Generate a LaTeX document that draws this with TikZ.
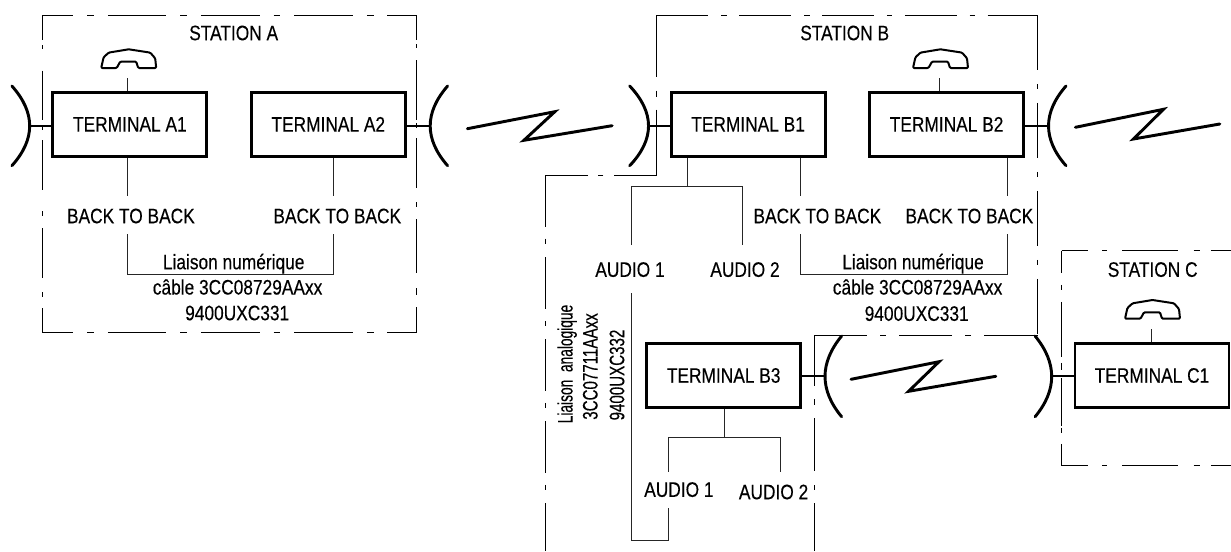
\documentclass[tikz,border=0pt]{standalone}
\usepackage{fontspec}
\setmainfont{Liberation Sans}[FakeStretch=0.825,FakeBold=0.25]
\newfontfamily\rotfont{Liberation Sans}[FakeStretch=0.72,FakeBold=0.25]
\newfontfamily\rotnarrow{Liberation Sans}[FakeStretch=0.655,FakeBold=0.25]
\tikzset{
  x=0.75pt,y=-0.75pt,
  term/.style={draw=black,line width=2.2pt,minimum width=115.5pt,minimum height=48pt,inner sep=0pt,font=\fontsize{15.75}{18}\selectfont},
  lab/.style={inner sep=0pt,text height=11.3pt,text depth=0pt,font=\fontsize{15.75}{18}\selectfont},
  wire/.style={draw=black!85,line width=0.75pt},
  heavy/.style={draw=black,line width=2.2pt},
  radio/.style={draw=black,line width=2.2pt,line cap=round},
  station/.style={draw=black,line width=0.75pt},
  pics/phone/.style={code={
    \draw[black,line width=1.5pt,line join=round,rounded corners=0.8pt]
      (0,18.7)--(2.4,8)--(7.5,3.3)--(27.5,0)--(49,3.3)--(54,9)--(55,18.7)--(37,18.7)--(35,12.3)--(19,12.3)--(15.5,18.7)--cycle;
  }}
}
\begin{document}
\begin{tikzpicture}
\useasboundingbox (0,0) rectangle (1231,551);
% station A
\draw[station,dash pattern=on 44pt off 10.5pt on 5pt off 10.4pt,dash phase=20.8pt] (42.3,15) -- (416.8,15);
\draw[station,dash pattern=on 44pt off 10.5pt on 5pt off 10.4pt,dash phase=20.8pt] (42.3,332.7) -- (416.8,332.7);
\draw[station,dash pattern=on 18.75pt off 3.75pt on 3pt off 16.3pt on 37pt off 3.75pt on 3.75pt off 7.5pt on 37.5pt off 15.75pt on 3.75pt off 9pt on 37.5pt off 10.5pt on 3.75pt off 8.25pt on 18.75pt off 10pt] (42.3,15) -- (42.3,332.7);
\draw[station,dash pattern=on 18.75pt off 3pt on 3pt off 9pt on 45pt off 2.25pt on 3.75pt off 7.5pt on 37.5pt off 10.5pt on 3.75pt off 9pt on 40.5pt off 11.25pt on 5.25pt off 9pt on 19.5pt off 10pt] (416.8,15) -- (416.8,332.7);
% station B
\draw[station,dash pattern=on 38.8pt off 9.75pt on 4.1pt off 9.4pt] (656.7,15) -- (1037.5,15);
\draw[station,dash pattern=on 46.3pt off 10.5pt on 4.5pt off 9.75pt on 49pt off 10pt] (656.7,15) -- (656.7,175);
\draw[station,dash pattern=on 31.8pt off 8.25pt on 3.75pt off 7.7pt on 32pt off 10pt] (656.7,175) -- (545,175);
\draw[station,dash pattern=on 38.8pt off 9pt on 3.75pt off 10pt] (545,175) -- (545,551);
\draw[station,dash pattern=on 41.25pt off 10.5pt on 4.1pt off 10.1pt] (1037.5,15) -- (1037.5,335);
\draw[station,dash pattern=on 40pt off 9.75pt on 4.5pt off 9.75pt] (1037.5,335) -- (814,335);
\draw[station,dash pattern=on 38.25pt off 9.75pt on 4.5pt off 9.75pt on 39.75pt off 10.5pt on 3.75pt off 9.75pt on 37pt off 10pt] (814,335) -- (814,551);
% station C
\draw[station,dash pattern=on 20pt off 10.5pt on 3.75pt off 11.25pt on 41.75pt off 11.6pt on 4.5pt off 8.6pt on 16pt off 10pt] (1061.7,250.7) -- (1231,250.7);
\draw[station,dash pattern=on 20pt off 10.5pt on 3.75pt off 11.25pt on 41.75pt off 11.6pt on 4.5pt off 8.6pt on 16pt off 10pt] (1061.7,465.7) -- (1231,465.7);
\draw[station,dash pattern=on 16.7pt off 9pt on 3.75pt off 9pt on 41pt off 4.7pt on 5.25pt off 6pt on 36pt off 1.5pt on 3.75pt off 8.25pt on 16.3pt off 10pt] (1061.7,250.7) -- (1061.7,465.7);
% terminals
\node[term] (a1) at (129.9,124.3) {TERMINAL A1};
\node[term] (a2) at (328.3,124.3) {TERMINAL A2};
\node[term] (b1) at (748.1,124.3) {TERMINAL B1};
\node[term] (b2) at (946.6,124.3) {TERMINAL B2};
\node[term] (b3) at (723.7,375.5) {TERMINAL B3};
\node[term] (c1) at (1152,375.5) {TERMINAL C1};
% labels
\node[lab] (sa) at (233.7,32.7) {STATION A};
\node[lab] (sb) at (844.7,32.7) {STATION B};
\node[lab] (sc) at (1152.7,269.3) {STATION C};
\node[lab] (bba1) at (130.9,215.7) {BACK TO BACK};
\node[lab] (bba2) at (337.3,215.7) {BACK TO BACK};
\node[lab] (bbb1) at (817.4,215.7) {BACK TO BACK};
\node[lab] (bbb2) at (969.4,215.7) {BACK TO BACK};
\node[lab] (lna) at (233.7,261.7) {Liaison numérique};
\node[lab] (cba) at (237.6,287) {câble 3CC08729AAxx};
\node[lab] (ua) at (237.2,312.7) {9400UXC331};
\node[lab] (lnb) at (913,261.7) {Liaison numérique};
\node[lab] (cbb) at (917.6,287) {câble 3CC08729AAxx};
\node[lab] (ub) at (916.7,313.3) {9400UXC331};
\node[lab] (au1) at (630,269.3) {AUDIO 1};
\node[lab] (au2) at (745,269.3) {AUDIO 2};
\node[lab] (au3) at (678.9,489.3) {AUDIO 1};
\node[lab] (au4) at (773.6,491.7) {AUDIO 2};
\node[lab,rotate=90] (la) at (565,364) {\rotnarrow Liaison\ \ analogique};
\node[lab,rotate=90] (lb) at (590,366.5) {\rotfont 3CC07711AAxx};
\node[lab,rotate=90] (lc) at (616.7,375) {\rotfont 9400UXC332};
% phones
\pic at (101.2,49.3) {phone};
\pic at (913,49.3) {phone};
\pic at (1125,300) {phone};
\coordinate (pa) at (127.7,78.3);
\coordinate (pb) at (939.5,78.3);
\coordinate (pc) at (1151.4,329.3);
\draw[wire] (pa) -- (pa |- a1.north);
\draw[wire] (pb) -- (pb |- b2.north);
\draw[wire] (pc) -- (pc |- c1.north);
% back to back wiring
\coordinate (xa1) at (127.7,195.7);
\coordinate (xa2) at (333.7,195.7);
\coordinate (ya1) at (127.7,234.3);
\coordinate (ya2) at (333.7,234.3);
\coordinate (xb1) at (800.9,195.7);
\coordinate (xb2) at (1007.4,195.7);
\coordinate (yb1) at (800.9,234.3);
\coordinate (yb2) at (1007.4,234.3);
\draw[wire] (xa1 |- a1.south) -- (xa1);
\draw[wire] (xa2 |- a2.south) -- (xa2);
\draw[wire] (ya1) -- (127.7,274) -- (333.7,274) -- (ya2);
\draw[wire] (xb1 |- b1.south) -- (xb1);
\draw[wire] (xb2 |- b2.south) -- (xb2);
\draw[wire] (yb1) -- (800.9,274) -- (1007.4,274) -- (yb2);
% audio wiring
\coordinate (ja) at (687.4,186.7);
\coordinate (aa1) at (631,245);
\coordinate (aa2) at (742.8,245);
\draw[wire] (ja |- b1.south) -- (ja);
\draw[wire] (aa1) -- (631,186.7) -- (742.8,186.7) -- (aa2);
\coordinate (ab1) at (631,293.3);
\coordinate (ab2) at (668,508.3);
\draw[wire] (ab1) -- (631,540) -- (668,540) -- (ab2);
\coordinate (jb) at (724,437.7);
\coordinate (ac1) at (668,471.7);
\coordinate (ac2) at (780.3,471.7);
\draw[wire] (jb |- b3.south) -- (jb);
\draw[wire] (ac1) -- (668,437.7) -- (780.3,437.7) -- (ac2);
% radio stubs and arcs
\coordinate (ra1) at (29.7,126);
\coordinate (ra2) at (430.2,126);
\coordinate (rb1) at (648.5,126);
\coordinate (rb2) at (1048.5,126);
\coordinate (rb3) at (825,376);
\coordinate (rc1) at (1051.7,376);
\draw[heavy] (ra1) -- (ra1 -| a1.west);
\draw[heavy] (ra2) -- (ra2 -| a2.east);
\draw[heavy] (rb1) -- (rb1 -| b1.west);
\draw[heavy] (rb2) -- (rb2 -| b2.east);
\draw[heavy] (rb3) -- (rb3 -| b3.east);
\draw[heavy] (rc1) -- (rc1 -| c1.west);
\draw[radio] (11.9,86) .. controls (35.6,112.6) and (35.6,139.2) .. (11.9,165.7);
\draw[radio] (447.6,86) .. controls (424.4,112.6) and (424.4,139.2) .. (447.6,165.7);
\draw[radio] (629.7,86) .. controls (654.8,112.6) and (654.8,139.2) .. (629.7,165.7);
\draw[radio] (1066,86) .. controls (1042.7,112.6) and (1042.7,139.2) .. (1066,165.7);
\draw[radio] (841.6,336) .. controls (819.5,363) and (819.5,390) .. (841.6,416.7);
\draw[radio] (1035.1,336) .. controls (1057.2,363) and (1057.2,390) .. (1035.1,416.7);
% zigzags
\draw[radio] (467.4,128.7) -- (554.8,111.7) -- (523.9,140.3) -- (612.1,125.7);
\draw[radio] (1075.4,127.3) -- (1163.4,109.3) -- (1133.5,139) -- (1219.8,124);
\draw[radio] (851,379.3) -- (939,361.7) -- (908.6,391.3) -- (995.8,376.3);
\end{tikzpicture}
\end{document}
